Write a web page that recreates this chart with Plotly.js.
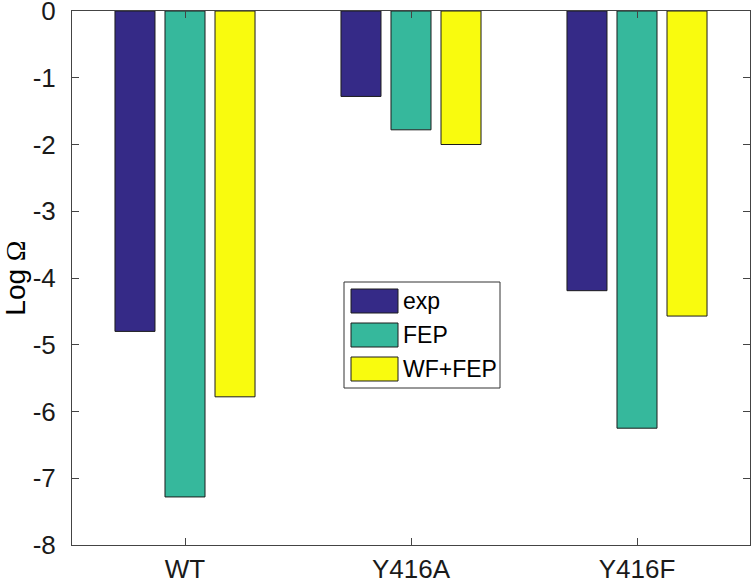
<!DOCTYPE html>
<html>
<head>
<meta charset="utf-8">
<script src="https://cdn.plot.ly/plotly-3.0.1.min.js"></script>
<style>html,body{margin:0;padding:0;background:#fff;}#chart{width:751px;height:585px;}</style>
</head>
<body>
<div id="chart"></div>
<script>
const categories = ["WT", "Y416A", "Y416F"];
const seriesNames = ["exp", "FEP", "WF+FEP"];
const expValues = [-4.80, -1.28, -4.19];
const fepValues = [-7.28, -1.78, -6.25];
const wfFepValues = [-5.78, -2.00, -4.57];
const seriesColors = ["#352a87", "#36b89c", "#f9fb0e"];
const yTicks = [0, -1, -2, -3, -4, -5, -6, -7, -8];

const seriesValues = [expValues, fepValues, wfFepValues];
const xPos = categories.map((c, i) => i + 1);

const traces = seriesValues.map((vals, i) => ({
  type: "bar",
  name: seriesNames[i],
  x: xPos,
  y: vals,
  marker: {color: seriesColors[i], line: {color: "#1c1c1c", width: 1}},
  showlegend: false,
  hoverinfo: "skip"
}));

// Plot area geometry in pixels (for the MATLAB-like legend box)
const L = 72, T = 11, W = 678, H = 534;
const px = v => (v - L) / W;
const py = v => (T + H - v) / H;

const shapes = [{
  type: "rect", xref: "paper", yref: "paper",
  x0: px(344), x1: px(500), y0: py(388), y1: py(282),
  line: {color: "#333333", width: 1}, fillcolor: "#ffffff", layer: "above"
}];
const annotations = [];
const rowTops = [289, 323, 357];
seriesNames.forEach((n, i) => {
  shapes.push({
    type: "rect", xref: "paper", yref: "paper",
    x0: px(351), x1: px(398), y0: py(rowTops[i] + 24), y1: py(rowTops[i]),
    fillcolor: seriesColors[i], line: {color: "#1c1c1c", width: 1}, layer: "above"
  });
  annotations.push({
    xref: "paper", yref: "paper", x: px(401), y: py(rowTops[i] + 12),
    xanchor: "left", yanchor: "middle", showarrow: false, text: n,
    font: {family: "Liberation Sans, Arial, sans-serif", size: 23, color: "#000"}
  });
});

const axisCommon = {
  showline: true, linecolor: "#444444", linewidth: 1, mirror: "ticks",
  ticks: "inside", ticklen: 7, tickcolor: "#444444", tickwidth: 1,
  showgrid: false, zeroline: false, ticklabeloverflow: "allow",
  tickfont: {family: "Liberation Sans, Arial, sans-serif", size: 26, color: "#1a1a1a"}
};

const layout = {
  width: 751, height: 585,
  margin: {l: L, r: 751 - L - W, t: T, b: 585 - T - H, pad: 0},
  paper_bgcolor: "#fff", plot_bgcolor: "#fff",
  barmode: "group", bargap: 0.336, bargroupgap: 0.2,
  xaxis: Object.assign({}, axisCommon, {
    range: [0.5, 3.5], tickvals: xPos, ticktext: categories, ticklabelstandoff: 1
  }),
  yaxis: Object.assign({}, axisCommon, {
    range: [-8, 0], tickvals: yTicks, ticktext: yTicks.map(String), ticklabelstandoff: 10,
    title: {text: "Log <span style=\"font-family:Liberation Serif\">Ω</span>", standoff: 6,
            font: {family: "Liberation Sans, Arial, sans-serif", size: 28, color: "#000"}}
  }),
  shapes: shapes,
  annotations: annotations
};

Plotly.newPlot("chart", traces, layout, {displayModeBar: false, staticPlot: true});
</script>
</body>
</html>
